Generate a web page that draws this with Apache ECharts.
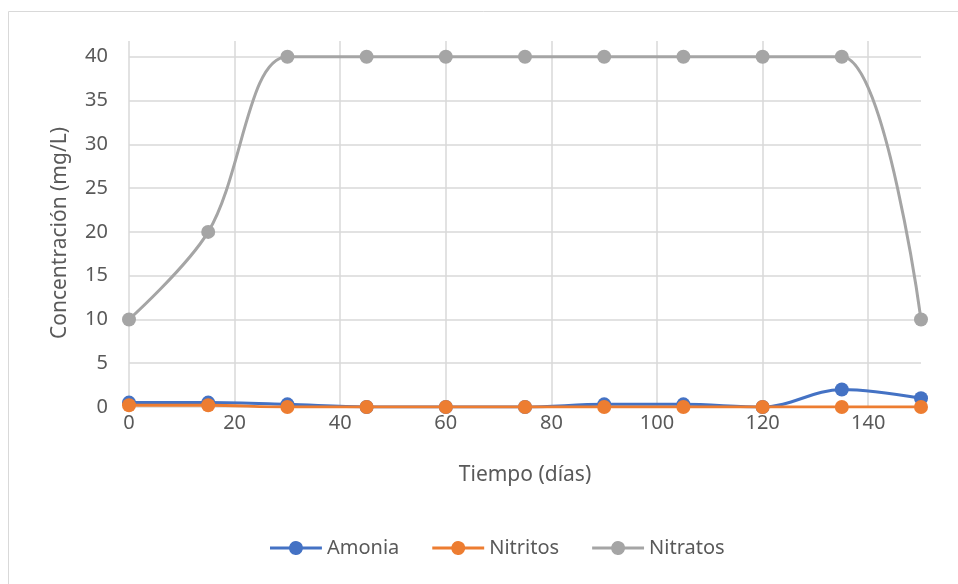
<!DOCTYPE html>
<html>
<head>
<meta charset="utf-8">
<script src="https://cdn.jsdelivr.net/npm/echarts@6/dist/echarts.min.js"></script>
<style>html,body{margin:0;padding:0;background:#fff;}#c{width:958px;height:584px;}</style>
</head>
<body>
<div id="c"></div>
<script>
const days = [0, 15, 30, 45, 60, 75, 90, 105, 120, 135, 150];
const amonia = [0.5, 0.5, 0.3, 0, 0, 0, 0.3, 0.3, 0, 2, 1];
const nitritos = [0.2, 0.2, 0, 0, 0, 0, 0, 0, 0, 0, 0];
const nitratos = [10, 20, 40, 40, 40, 40, 40, 40, 40, 40, 10];
const seriesNames = ['Amonia', 'Nitritos', 'Nitratos'];
const colors = ['#4472C4', '#ED7D31', '#A5A5A5'];

const font = 'Noto Sans';
const legendIcon = 'path://M0,5.5 H19.16 A7,7 0 0 1 32.84,5.5 H52 V8.5 H32.84 A7,7 0 0 1 19.16,8.5 H0 Z';
function pairs(v) { return days.map((d, i) => [d, v[i]]); }
const chart = echarts.init(document.getElementById('c'));
const mk = (name, vals, color, z) => ({
  name, type: 'line', data: pairs(vals), smooth: 0.35,
  symbol: 'circle', symbolSize: 14, z,
  lineStyle: { color, width: 3 }, itemStyle: { color },
  emphasis: { disabled: true }
});
chart.setOption({
  animation: false,
  textStyle: { fontFamily: font },
  graphic: [{ type: 'rect', shape: { x: 8.5, y: 11.5, width: 1000, height: 1000 }, style: { fill: 'none', stroke: '#d9d9d9', lineWidth: 1 }, silent: true }],
  grid: { left: 129, right: 37, top: 41, bottom: 177 },
  xAxis: {
    type: 'value', min: 0, max: 150, interval: 20,
    name: 'Tiempo (días)', nameLocation: 'middle', nameGap: 58,
    nameTextStyle: { fontSize: 21, color: '#595959', fontFamily: font },
    axisLine: { show: false }, axisTick: { show: false },
    axisLabel: { fontSize: 20, color: '#595959', margin: 6, showMaxLabel: false, fontFamily: font },
    splitLine: { show: true, showMaxLine: false, lineStyle: { color: '#d9d9d9', width: 1.5 } }
  },
  yAxis: {
    type: 'value', min: 0, max: 41.8, interval: 5,
    name: 'Concentración (mg/L)', nameLocation: 'middle', nameGap: 58,
    nameTextStyle: { fontSize: 21, color: '#595959', fontFamily: font, padding: [0, 18, 0, 0] },
    axisLine: { show: false }, axisTick: { show: false },
    axisLabel: { fontSize: 20, color: '#595959', margin: 21, showMaxLabel: false, fontFamily: font },
    splitLine: { show: true, showMaxLine: false, lineStyle: { color: '#d9d9d9', width: 1.5 } }
  },
  legend: {
    bottom: 21, left: 265, itemWidth: 52, itemHeight: 14, itemGap: 33,
    icon: legendIcon,
    textStyle: { fontSize: 20, color: '#595959', fontFamily: font },
    data: seriesNames
  },
  series: [
    mk(seriesNames[0], amonia, colors[0], 3),
    mk(seriesNames[1], nitritos, colors[1], 4),
    mk(seriesNames[2], nitratos, colors[2], 2)
  ]
});
</script>
</body>
</html>
